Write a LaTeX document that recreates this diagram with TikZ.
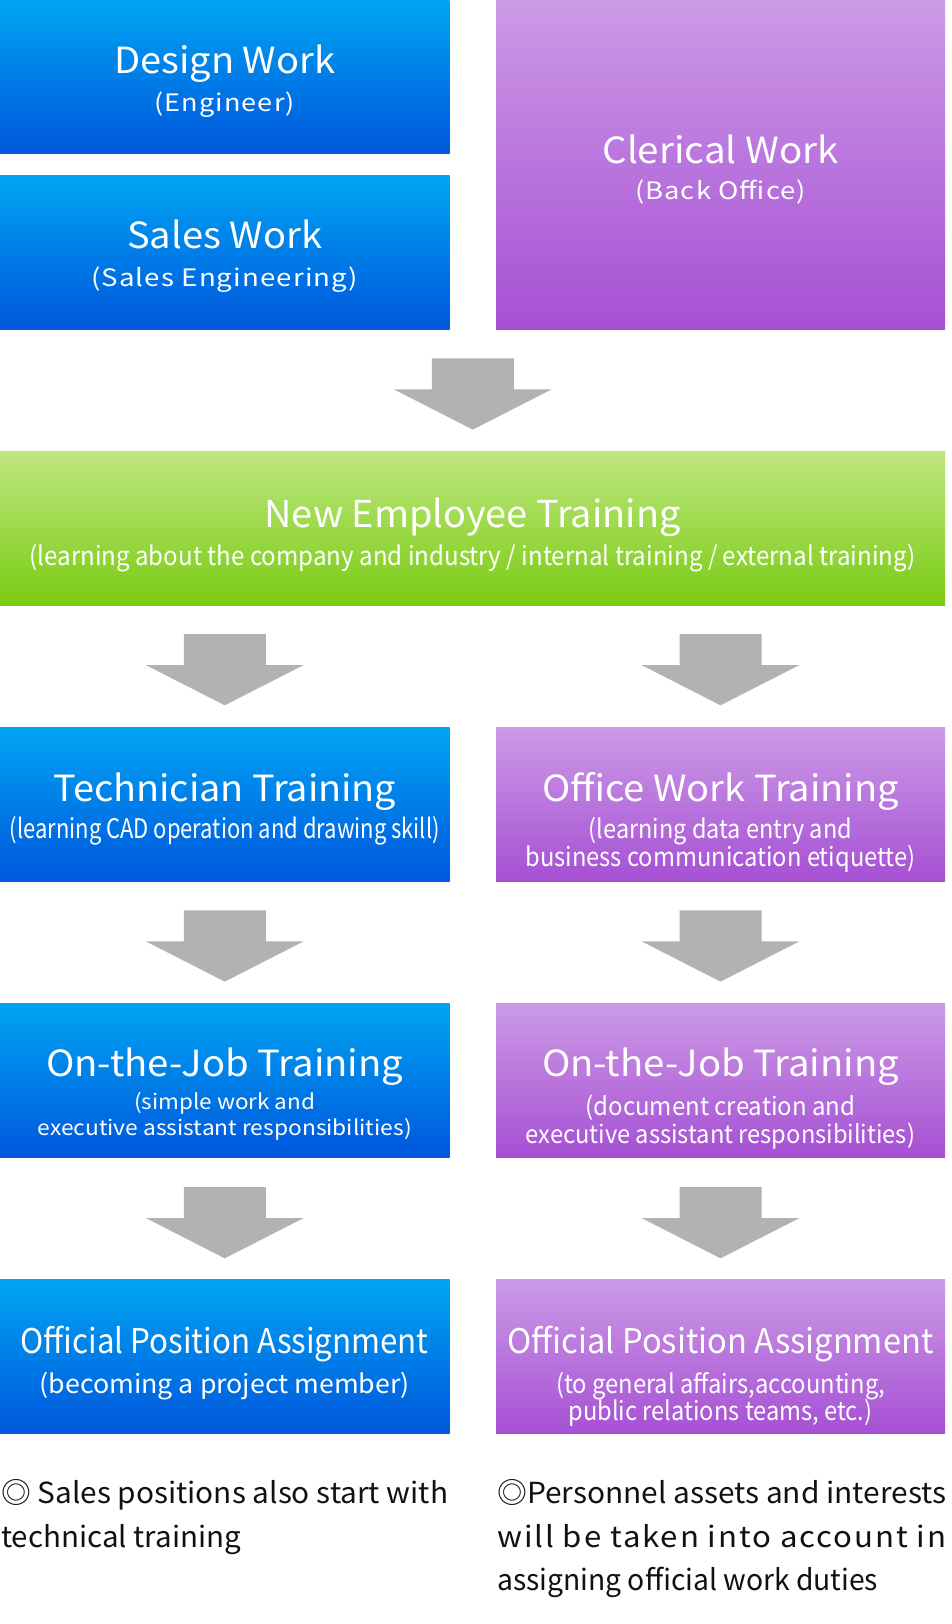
\documentclass[tikz,border=0pt]{standalone}
\usepackage{fontspec}
\setmainfont{Noto Sans CJK JP}
\usepackage{graphicx}
\usetikzlibrary{calc}
\definecolor{blueT}{HTML}{00A4F2}
\definecolor{blueB}{HTML}{0057DD}
\definecolor{purT}{HTML}{CC9AE6}
\definecolor{purB}{HTML}{A650D4}
\definecolor{greenT}{HTML}{BEE67F}
\definecolor{greenB}{HTML}{7ACC14}
\definecolor{arrowgray}{HTML}{B2B2B2}
\definecolor{notecol}{HTML}{111111}
\newcommand\fs[1]{\fontsize{#1}{#1}\selectfont}
\newcommand\fw[2]{\resizebox{#1pt}{\height}{#2}}
\tikzset{
  boxbase/.style={rectangle, inner sep=0pt, outer sep=0pt, anchor=north west, draw=none},
  bluebox/.style={boxbase, top color=blueT, bottom color=blueB},
  purbox/.style={boxbase, top color=purT, bottom color=purB},
  greenbox/.style={boxbase, top color=greenT, bottom color=greenB},
  wtxt/.style={text=white, inner sep=0pt, anchor=base},
  ntxt/.style={text=notecol, inner sep=0pt, anchor=base west},
  blockarrow/.pic={\fill[arrowgray] (-41,0) -- (41,0) -- (41,31) -- (79,31) -- (0,71.3) -- (-79,31) -- (-41,31) -- cycle;}
}
\begin{document}
\begin{tikzpicture}[x=1pt,y=-1pt]
\useasboundingbox (0,0) rectangle (951,1624);
\fill[white] (0,0) rectangle (951,1624);
% boxes
\node[bluebox, minimum width=449.5, minimum height=153.5] (design) at (0,0) {};
\node[bluebox, minimum width=449.5, minimum height=153.7] (sales) at (0,175.3) {};
\node[purbox, minimum width=449, minimum height=329] (cler) at (496,0) {};
\node[greenbox, minimum width=945, minimum height=154] (green) at (0,451) {};
\node[bluebox, minimum width=449.5, minimum height=154] (tech) at (0,727.3) {};
\node[purbox, minimum width=449, minimum height=154] (office) at (496,727.3) {};
\node[bluebox, minimum width=449.5, minimum height=154] (ojtL) at (0,1003.4) {};
\node[purbox, minimum width=449, minimum height=154] (ojtR) at (496,1003.4) {};
\node[bluebox, minimum width=449.5, minimum height=154] (opaL) at (0,1279.8) {};
\node[purbox, minimum width=449, minimum height=154] (opaR) at (496,1279.8) {};
% arrows
\pic at ($($(sales.south east)!0.5!(cler.south west)$)+(0,29.3)$) {blockarrow};
\pic at ($(tech.north |- green.south)+(0,29)$) {blockarrow};
\pic at ($(office.north |- green.south)+(0,29)$) {blockarrow};
\pic at ($(tech.south)+(0,29)$) {blockarrow};
\pic at ($(office.south)+(0,29)$) {blockarrow};
\pic at ($(ojtL.south)+(0,29.6)$) {blockarrow};
\pic at ($(ojtR.south)+(0,29.6)$) {blockarrow};
% texts top row
\node[wtxt, font=\fs{36}] (t1) at (224.75,73.3) {\fw{221}{Design Work}};
\node[wtxt, font=\fs{24}] (t2) at (224.75,111.7) {\fw{140}{\addfontfeature{LetterSpace=4}(Engineer)}};
\node[wtxt, font=\fs{36}] (t3) at (224.75,248.3) {\fw{195}{Sales Work}};
\node[wtxt, font=\fs{24}] (t4) at (224.75,286.7) {\fw{267}{\addfontfeature{LetterSpace=4}(Sales Engineering)}};
\node[wtxt, font=\fs{36}] (t5) at (720.5,163.3) {\fw{236}{Clerical Work}};
\node[wtxt, font=\fs{24}] (t6) at (720.5,200) {\fw{171}{\addfontfeature{LetterSpace=4}(Back Office)}};
% green
\node[wtxt, font=\fs{37}] (t7) at (472.5,527) {\fw{416}{New Employee Training}};
\node[wtxt, font=\fs{26}] (t8) at (472.5,565) {\fw{886}{(learning about the company and industry / internal training / external training)}};
% row tech
\node[wtxt, font=\fs{36}] (t9) at (224.75,801.7) {\fw{343}{Technician Training}};
\node[wtxt, font=\fs{27}] (t10) at (224.75,838) {\fw{430}{(learning CAD operation and drawing skill)}};
\node[wtxt, font=\fs{36}] (t11) at (720.5,801.7) {\fw{357}{Office Work Training}};
\node[wtxt, font=\fs{26}] (t12) at (720.5,838) {\fw{263}{(learning data entry and}};
\node[wtxt, font=\fs{26}] (t13) at (720.5,866.7) {\fw{390}{business communication etiquette)}};
% row ojt
\node[wtxt, font=\fs{36}] (t14) at (224.75,1076.7) {\fw{357}{On-the-Job Training}};
\node[wtxt, font=\fs{21}] (t15) at (224.75,1109) {\fw{181}{(simple work and}};
\node[wtxt, font=\fs{21}] (t16) at (224.75,1135) {\fw{374}{executive assistant responsibilities)}};
\node[wtxt, font=\fs{36}] (t17) at (720.5,1076.7) {\fw{357}{On-the-Job Training}};
\node[wtxt, font=\fs{25}] (t18) at (720.5,1115) {\fw{270}{(document creation and}};
\node[wtxt, font=\fs{25}] (t19) at (720.5,1143) {\fw{389}{executive assistant responsibilities)}};
% row opa
\node[wtxt, font=\fs{34}] (t20) at (224.75,1353) {\fw{408}{Official Position Assignment}};
\node[wtxt, font=\fs{26}] (t21) at (224.75,1393) {\fw{370}{(becoming a project member)}};
\node[wtxt, font=\fs{34}] (t22) at (720.5,1353) {\fw{426}{Official Position Assignment}};
\node[wtxt, font=\fs{26}] (t23) at (720.5,1393) {\fw{329}{(to general affairs,accounting,}};
\node[wtxt, font=\fs{26}] (t24) at (720.5,1420.7) {\fw{304}{public relations teams, etc.)}};
% notes
\node[ntxt, font=\fs{29}] (n1) at (1,1503) {\fw{447}{◎ Sales positions also start with}};
\node[ntxt, font=\fs{29}] (n2) at (1,1547) {\fw{240}{technical training}};
\node[ntxt, font=\fs{29}] (n3) at (497,1503) {\fw{449}{◎Personnel assets and interests}};
\node[ntxt, font=\fs{29}] (n4) at (497,1547) {\fw{449}{\addfontfeature{LetterSpace=6}will be taken into account in}};
\node[ntxt, font=\fs{29}] (n5) at (497,1590) {\fw{381}{assigning official work duties}};
\end{tikzpicture}
\end{document}
